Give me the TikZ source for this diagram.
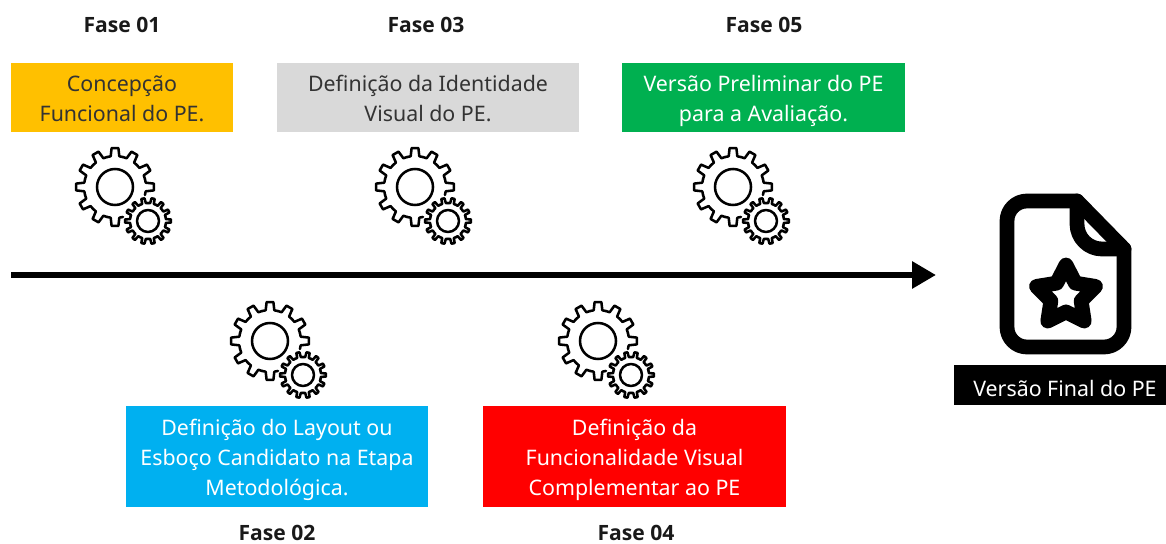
\documentclass[tikz,border=0pt]{standalone}
\usepackage{fontspec}
\setmainfont{Noto Sans}
\newfontfamily\fasefont{Open Sans}
\usetikzlibrary{arrows.meta,shapes.geometric}
\newcommand{\boxtop}{\rule{0pt}{17.5pt}}
\newcommand{\boxbot}{\rule[-5pt]{0pt}{5pt}}
\tikzset{
  box/.style={anchor=center,align=center,font=\fontsize{15.2}{21.5}\selectfont,inner sep=0pt},
  fase/.style={font=\fontsize{15}{18}\selectfont\fasefont\bfseries,text=black!90,inner sep=0pt},
  gearline/.style={line width=1.8pt,line join=round,line cap=round},
  gearpair/.pic={
    % big wheel, open towards the small one
    \foreach \a in {90,120,...,360}{
      \draw[gearline] (\a-15:31) -- (\a-8:31) -- (\a-5:39) -- (\a+5:39) -- (\a+8:31) -- (\a+15:31);
    }
    \draw[gearline] (0,0) circle (18);
    % small wheel
    \foreach \i in {0,...,13}{
      \pgfmathsetmacro\a{\i*360/14}
      \draw[gearline] ([shift={(33,34)}]\a-12.86:18) -- ([shift={(33,34)}]\a-6:18) -- ([shift={(33,34)}]\a-4:23) -- ([shift={(33,34)}]\a+4:23) -- ([shift={(33,34)}]\a+6:18) -- ([shift={(33,34)}]\a+12.86:18);
    }
    \draw[gearline] (33,34) circle (11);
  }
}
\begin{document}
\begin{tikzpicture}[x=0.025cm,y=-0.025cm]
\useasboundingbox (0,0) rectangle (1166,544);
% top row
\node [box,fill={rgb,255:red,255;green,192;blue,0},minimum width=5.55cm,minimum height=1.725cm,text=black!80] (fase1) at (122,97.5) {\boxtop Concepção\\Funcional do PE.\boxbot};
\node [box,fill={rgb,255:red,217;green,217;blue,217},minimum width=7.55cm,minimum height=1.725cm,text=black!80] (fase3) at (428,97.5) {\boxtop Definição da Identidade\\Visual do PE.\boxbot};
\node [box,fill={rgb,255:red,0;green,176;blue,80},minimum width=7.075cm,minimum height=1.725cm,text=white] (fase5) at (763.5,97.5) {\boxtop Versão Preliminar do PE\\para a Avaliação.\boxbot};
% bottom row
\node [box,fill={rgb,255:red,0;green,176;blue,240},minimum width=7.55cm,minimum height=2.525cm,text=white] (fase2) at (277,456.5) {\boxtop Definição do Layout ou\\Esboço Candidato na Etapa\\Metodológica.\boxbot};
\node [box,fill={rgb,255:red,255;green,0;blue,0},minimum width=7.575cm,minimum height=2.525cm,text=white] (fase4) at (634.5,456.5) {\boxtop Definição da\\Funcionalidade Visual\\Complementar ao PE\boxbot};
\node [fase] (lab1) at (122,25) {Fase 01};
\node [fase] (lab3) at (426,25) {Fase 03};
\node [fase] (lab5) at (764,25) {Fase 05};
\node [fase] (lab2) at (277,533) {Fase 02};
\node [fase] (lab4) at (636,533) {Fase 04};
% gears
\pic at (115,187) {gearpair};
\pic at (415,187) {gearpair};
\pic at (733,187) {gearpair};
\pic at (270,341) {gearpair};
\pic at (598,341) {gearpair};
% time line
\coordinate (start) at (11,275);
\coordinate (stop) at (936,275);
\draw [line width=4.4pt,-{Triangle[length=0.6cm,width=0.65cm]}] (start) -- (stop);
% final document
\draw [line width=10.5pt,line join=round] (1077,201) -- (1027,201) arc (-90:-180:20) -- (1007,327) arc (180:90:20) -- (1104,347) arc (90:0:20) -- (1124,249) -- cycle;
\draw [line width=10.5pt,line join=round,line cap=round] (1077,201) -- (1077,224) arc (180:90:25) -- (1124,249);
\node [star,star points=5,star point ratio=1.95,draw,line width=10.5pt,line join=round,minimum size=1.55cm,inner sep=0pt] (estrela) at (1066,296) {};
\node [box,fill=black,text=white,minimum width=5.3cm,minimum height=1cm] (final) at (1060,385) {\hspace*{7pt}\rule{0pt}{17pt}Versão Final do PE};
\end{tikzpicture}
\end{document}
